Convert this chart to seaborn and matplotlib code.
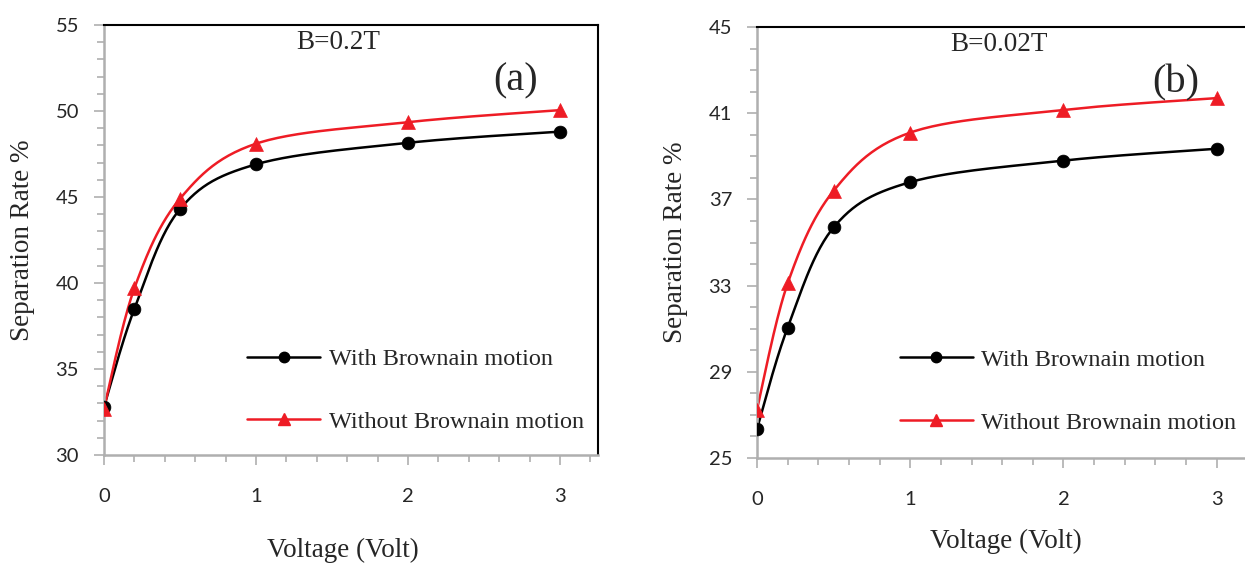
import numpy as np
import pandas as pd
import matplotlib
matplotlib.use("Agg")
import matplotlib.pyplot as plt
import seaborn as sns
from matplotlib.lines import Line2D
from matplotlib.ticker import MultipleLocator

# ---- data ----
voltage = [0, 0.2, 0.5, 1, 2, 3]
with_bm_a = [32.8, 38.5, 44.3, 46.9, 48.15, 48.8]
without_bm_a = [32.7, 39.7, 44.9, 48.1, 49.35, 50.05]
with_bm_b = [26.35, 31.05, 35.7, 37.8, 38.8, 39.35]
without_bm_b = [27.25, 33.1, 37.4, 40.1, 41.15, 41.7]
series_labels = ["With Brownain motion", "Without Brownain motion"]
panel_titles = ["B=0.2T", "B=0.02T"]
panel_tags = ["(a)", "(b)"]
yticks_a = [30, 35, 40, 45, 50, 55]
yticks_b = [25, 29, 33, 37, 41, 45]
xticks = [0, 1, 2, 3]

RED = "#EE1C25"
BLACK = "#000000"
GRAY = "#AFAFAF"

sns.set_style("ticks")
plt.rcParams["font.family"] = ["Lato", "DejaVu Sans"]
SERIF = ["Liberation Serif", "DejaVu Serif"]


def smooth(x, y, sx, sy, n=30):
    """Excel-style smoothed curve (cubic Bezier, control = P +/- (Pnext-Pprev)/6)."""
    P = np.column_stack([np.asarray(x, float) / sx, np.asarray(y, float) / sy])
    out = []
    m = len(P)
    t = np.linspace(0, 1, n)[:, None]
    for i in range(m - 1):
        p0 = P[i - 1] if i > 0 else P[i]
        p1, p2 = P[i], P[i + 1]
        p3 = P[i + 2] if i + 2 < m else P[i + 1]
        c1 = p1 + (p2 - p0) / 6.0
        c2 = p2 - (p3 - p1) / 6.0
        seg = ((1 - t) ** 3) * p1 + 3 * ((1 - t) ** 2) * t * c1 + 3 * (1 - t) * t ** 2 * c2 + t ** 3 * p2
        out.append(seg if i == 0 else seg[1:])
    S = np.vstack(out)
    return S[:, 0] * sx, S[:, 1] * sy


fig = plt.figure(figsize=(12.45, 5.63), dpi=100)
ax_a = fig.add_axes([104 / 1245, 1 - 455 / 563, (598 - 104) / 1245, (455 - 25) / 563])
ax_b = fig.add_axes([757 / 1245, 1 - 458 / 563, (1255 - 757) / 1245, (458 - 27) / 563])

panels = [
    # ax, series, yticks, idx, xlabel y, xlabel x, title x, tag x, legend anchor
    (ax_a, with_bm_a, without_bm_a, yticks_a, 0, -0.221, 0.484, 0.474, 0.833, 0.29, 0.15),
    (ax_b, with_bm_b, without_bm_b, yticks_b, 1, -0.194, 0.5, 0.486, 0.841, 0.287, 0.155),
]

for ax, w, wo, yt, k, xly, xlx, tx, tgx, lgx, lgy in panels:
    yr = yt[-1] - yt[0]
    for vals, col, mk, ms in [(w, BLACK, "o", 85), (wo, RED, "^", 100)]:
        sx_, sy_ = smooth(voltage, vals, 3.25 / 494, yr / 430)
        df_line = pd.DataFrame({"x": sx_, "y": sy_})
        sns.lineplot(data=df_line, x="x", y="y", ax=ax, color=col, lw=1.8,
                     sort=False, estimator=None)
        df_pts = pd.DataFrame({"x": voltage, "y": vals})
        sns.scatterplot(data=df_pts, x="x", y="y", ax=ax, color=col, marker=mk,
                        s=ms, edgecolor=col, linewidth=0.5, zorder=5)

    ax.set_xlim(0, 3.25)
    ax.set_ylim(yt[0], yt[-1])
    ax.set_xticks(xticks)
    ax.set_yticks(yt)
    ax.xaxis.set_minor_locator(MultipleLocator(0.2))
    ax.yaxis.set_minor_locator(MultipleLocator(1))
    ax.tick_params(axis="both", which="both", color=GRAY, width=1.2, direction="out")
    ax.tick_params(axis="both", which="major", length=7, labelsize=14.5)
    ax.tick_params(axis="both", which="minor", length=5)
    ax.tick_params(axis="x", which="major", pad=17)
    ax.tick_params(axis="y", which="major", pad=11)

    for side in ["left", "bottom"]:
        ax.spines[side].set_color(GRAY)
        ax.spines[side].set_linewidth(1.8)
    for side in ["top", "right"]:
        ax.spines[side].set_visible(True)
        ax.spines[side].set_color(BLACK)
        ax.spines[side].set_linewidth(1.5)

    ax.set_xlabel("Voltage (Volt)", fontsize=19.5, family=SERIF)
    ax.xaxis.set_label_coords(xlx, xly)
    ax.xaxis.label.set_va("center")
    ax.set_ylabel("Separation Rate %", fontsize=19.5, family=SERIF, labelpad=15)

    ax.text(tx, 0.96, panel_titles[k], transform=ax.transAxes, ha="center",
            va="center", fontsize=19.5, family=SERIF)
    ax.text(tgx, 0.87, panel_tags[k], transform=ax.transAxes, ha="center",
            va="center", fontsize=29, family=SERIF)

    handles = [
        Line2D([], [], color=BLACK, lw=1.8, marker="o", markersize=7.5),
        Line2D([], [], color=RED, lw=1.8, marker="^", markersize=8),
    ]
    ax.legend(handles, series_labels, loc="center left",
              bbox_to_anchor=(lgx, lgy), frameon=False,
              prop={"family": SERIF, "size": 17.5}, handlelength=3.0,
              handletextpad=0.35, labelspacing=1.68, borderpad=0,
              borderaxespad=0)

fig.savefig("out.png", dpi=100)
